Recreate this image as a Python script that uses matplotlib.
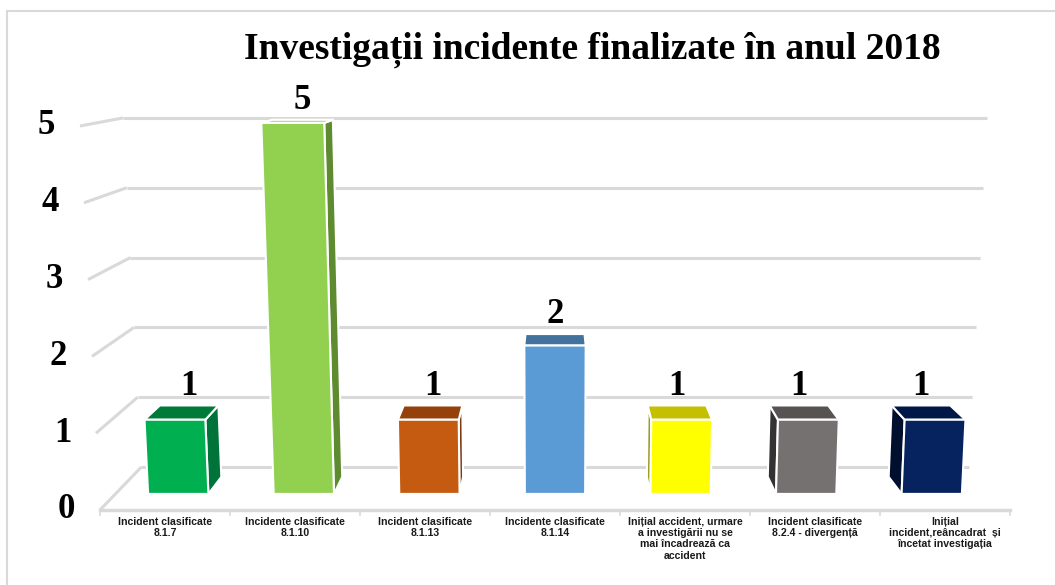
import matplotlib

matplotlib.use("Agg")
import matplotlib.pyplot as plt
from matplotlib.patches import Rectangle

# data
categories = [
    "Incident clasificate\n8.1.7",
    "Incidente clasificate\n8.1.10",
    "Incident clasificate\n8.1.13",
    "Incidente clasificate\n8.1.14",
    "Inițial accident, urmare\na investigării nu se\nmai încadrează ca\naccident",
    "Incident clasificate\n8.2.4 - divergență",
    "Inițial\nincident,reâncadrat  și\nîncetat investigația",
]
values = [1, 5, 1, 2, 1, 1, 1]
y_ticks = [0, 1, 2, 3, 4, 5]
front_colors = ["#00B050", "#92D050", "#C55A11", "#5B9BD5", "#FFFF00", "#767171", "#062360"]
top_colors = ["#007A38", "#A9DC78", "#96400C", "#43729E", "#C4C000", "#575353", "#001848"]
side_colors = ["#00733A", "#5E8A30", "#7D3A10", "#43729E", "#9C9C28", "#333333", "#000F2E"]
title = "Investigații incidente finalizate în anul 2018"

# fake 3-D perspective: vanishing point (data units) and depth scales
VPX, VPY = 3.0, 6.16
S_WALL, S_FRONT, S_BACK = 0.909, 0.966, 0.93
SPREAD = 0.0088  # verticals lean outward going up
BAR_W = 0.48
GRID = "#D9D9D9"


def proj(x, y, s=1.0):
    x1 = VPX + (x - VPX) * (1 + SPREAD * y)
    return VPX + s * (x1 - VPX), VPY + s * (y - VPY)


def poly(pts, s_list):
    xs, ys = zip(*[proj(x, y, s) for (x, y), s in zip(pts, s_list)])
    return list(xs), list(ys)


fig = plt.figure(figsize=(10.55, 5.85), dpi=100)
ax = fig.add_axes([0, 0, 1, 1])
ax.set_xlim(-0.5 - 100 / 130, 6.5 + 45 / 130)
ax.set_ylim(-75 / 76.8, 510 / 76.8)
ax.axis("off")

# outer frame
fig.patches.append(Rectangle((7 / 1055, -0.1), 1.2, 1 - 11 / 585 + 0.1,
                             transform=fig.transFigure, fill=False,
                             ec=GRID, lw=1.5))

n = len(values)
x0, x1 = -0.5, n - 0.5

# back wall gridlines + left wall lines
for v in y_ticks:
    xs, ys = poly([(x0, v), (x1, v)], [S_WALL, S_WALL])
    ax.plot(xs, ys, color=GRID, lw=2.2, zorder=1, solid_capstyle="butt")
    xs, ys = poly([(x0, v), (x0, v)], [1.0, S_WALL])
    ax.plot(xs, ys, color=GRID, lw=2.2, zorder=1, solid_capstyle="butt")

# floor front edge with small ticks between categories
xs, ys = poly([(x0, 0), (x1, 0)], [1.0, 1.0])
ax.plot(xs, ys, color=GRID, lw=2.5, zorder=1)
for k in range(n + 1):
    xt, yt = proj(x0 + k, 0)
    ax.plot([xt, xt], [yt, yt - 0.06], color=GRID, lw=1.2, zorder=1)

# y tick labels
for v in y_ticks:
    xt, yt = proj(x0, v)
    ax.annotate(str(v), (xt, yt), xytext=(-24, 0), textcoords="offset points",
                ha="center", va="center", fontsize=25, fontweight="bold",
                family="Liberation Serif")

# bars
for i, v in enumerate(values):
    l, r = i - BAR_W / 2, i + BAR_W / 2
    z = 3 + i * 0.01
    # side face (faces away from the vanishing point)
    if i != VPX:
        ex = r if i < VPX else l
        xs, ys = poly([(ex, 0), (ex, v), (ex, v), (ex, 0)],
                      [S_FRONT, S_FRONT, S_BACK, S_BACK])
        ax.fill(xs, ys, color=side_colors[i], ec="white", lw=1.5, zorder=z)
    # top face
    xs, ys = poly([(l, v), (r, v), (r, v), (l, v)],
                  [S_FRONT, S_FRONT, S_BACK, S_BACK])
    ax.fill(xs, ys, color=top_colors[i], ec="white", lw=1.5, zorder=z)
    # front face
    xs, ys = poly([(l, 0), (r, 0), (r, v), (l, v)], [S_FRONT] * 4)
    ax.fill(xs, ys, color=front_colors[i], ec="white", lw=1.5, zorder=z + 0.005)
    # value label
    xt, yt = proj(i, v, S_BACK)
    ax.annotate(str(v), (xt, yt), xytext=(0, 2), textcoords="offset points",
                ha="center", va="bottom", fontsize=25, fontweight="bold",
                family="Liberation Serif", zorder=10)

# category labels
for i, lab in enumerate(categories):
    xt, yt = proj(i, 0)
    ax.annotate(lab, (xt, yt), xytext=(0, -5), textcoords="offset points",
                ha="center", va="top", fontsize=7.6, fontweight="bold",
                family="Liberation Sans", linespacing=1.15, color="#1A1A1A")

fig.text(592 / 1055, 1 - 50 / 585, title, ha="center", va="center",
         fontsize=27, fontweight="bold", family="Liberation Serif")

fig.savefig("out.png", dpi=100)
